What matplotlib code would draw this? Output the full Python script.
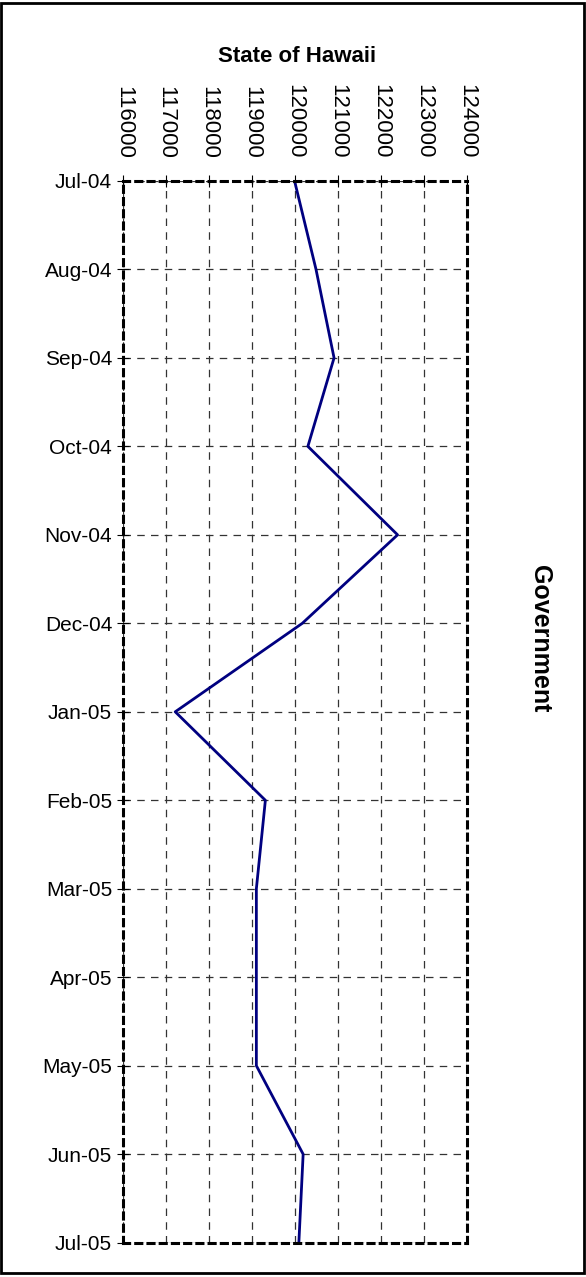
import matplotlib
matplotlib.use("Agg")
import matplotlib.pyplot as plt
from matplotlib.patches import Rectangle

# monthly values
months = ['Jul-04', 'Aug-04', 'Sep-04', 'Oct-04', 'Nov-04', 'Dec-04', 'Jan-05',
          'Feb-05', 'Mar-05', 'Apr-05', 'May-05', 'Jun-05', 'Jul-05']
jobs = [119990, 120490, 120910, 120300, 122390, 120170, 117210,
        119310, 119100, 119100, 119100, 120190, 120090]
xticks = [116000, 117000, 118000, 119000, 120000, 121000, 122000, 123000, 124000]

plt.rcParams['font.family'] = ['Liberation Sans', 'DejaVu Sans']

fig = plt.figure(figsize=(5.86, 12.77), dpi=100)
ax = fig.add_axes([0.2104, 0.0269, 0.586, 0.8314])

ax.plot(jobs, months, color='#000080', lw=2)

ax.set_xlim(116000, 124000)
ax.set_ylim(12, 0)
ax.set_xticks(xticks)
ax.set_xticklabels([str(v) for v in xticks], rotation=270, fontsize=16)
ax.xaxis.tick_top()
ax.tick_params(axis='x', direction='inout', length=8, pad=12)
ax.tick_params(axis='y', direction='inout', length=8, labelsize=15, pad=4)

# dashed grid
ax.grid(True, color='#333333', ls=(0, (6, 5)), lw=0.9)
ax.set_axisbelow(True)

# dashed plot-area frame
for s in ax.spines.values():
    s.set_linestyle((0, (2, 2)))
    s.set_linewidth(2.2)
    s.set_color('black')

fig.text(0.5068, 0.956, 'State of Hawaii', ha='center', va='center',
         fontsize=16, fontweight='bold')
fig.text(0.922, 0.5, 'Government', ha='center', va='center', rotation=270,
         fontsize=18, fontweight='bold')

# outer chart border
fig.patches.append(Rectangle((0.002, 0.003), 0.994, 0.995, transform=fig.transFigure,
                             fill=False, lw=2, color='black'))

fig.savefig('out.png', dpi=100)
